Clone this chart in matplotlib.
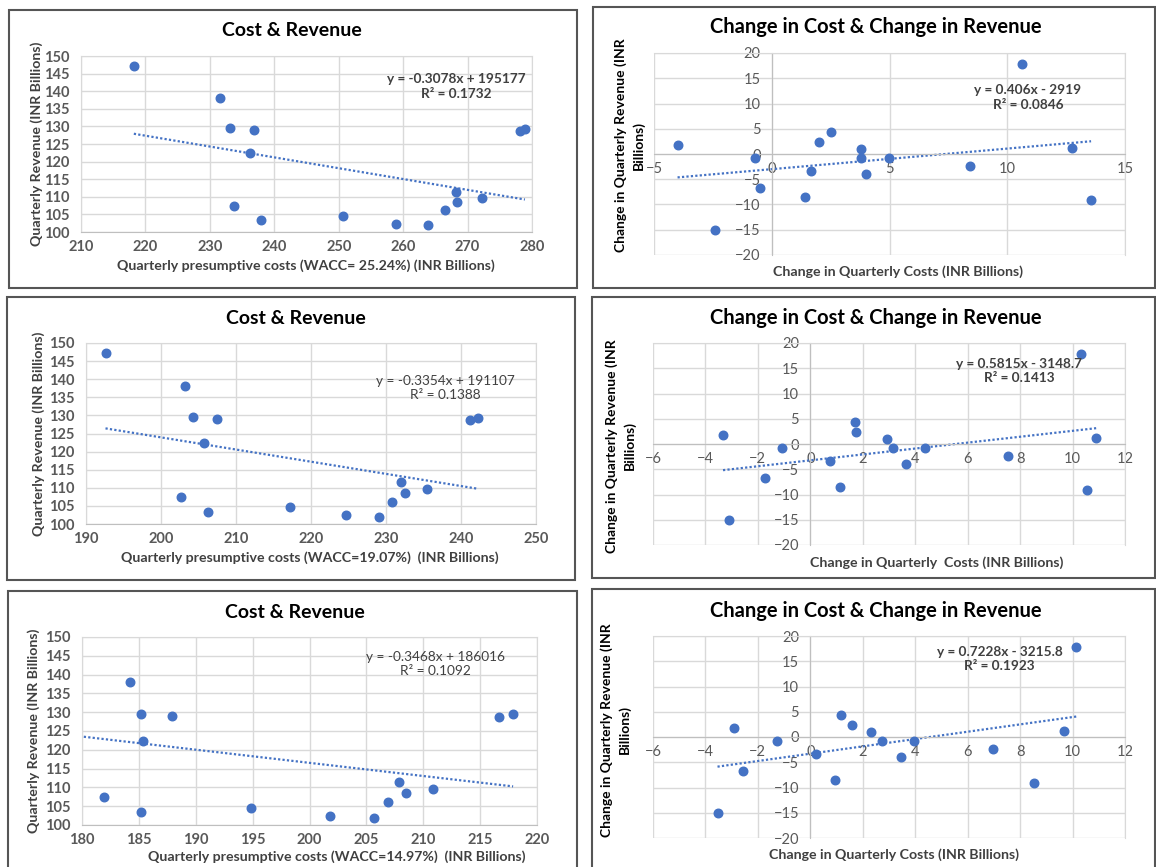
import numpy as np
import matplotlib
matplotlib.use("Agg")
import matplotlib.pyplot as plt
from matplotlib.patches import Rectangle

# Quarterly revenue (INR Billions), same for every WACC case
revenue = [147.1, 138.1, 129.5, 129.0, 122.4, 107.4, 103.4, 104.6,
           102.4, 101.9, 106.2, 111.5, 108.5, 109.6, 128.7, 129.4]

# Quarterly presumptive costs for the three WACC cases
cost_2524 = [218.2, 231.6, 233.1, 236.8, 236.2, 233.8, 237.9, 250.7,
             258.9, 263.9, 266.5, 268.2, 268.4, 272.2, 278.1, 278.9]
cost_1907 = [192.6, 203.2, 204.3, 207.5, 205.7, 202.6, 206.2, 217.2,
             224.6, 229.0, 230.8, 232.0, 232.5, 235.4, 241.2, 242.3]
cost_1497 = [175.5, 184.2, 185.2, 187.9, 185.4, 181.9, 185.2, 194.9,
             201.8, 205.7, 206.9, 207.9, 208.5, 210.9, 216.7, 217.9]

# Change in quarterly revenue and costs
d_revenue = [1.75, -15.0, -0.85, -6.8, -8.5, -3.3, 2.3, 4.4,
             1.05, -0.7, -4.0, -0.7, -2.3, 17.8, 1.2, -9.2]
d_cost_2524 = [-4.0, -2.43, -0.73, -0.51, 1.41, 1.65, 2.01, 2.52,
               3.77, 3.77, 4.02, 4.98, 8.42, 10.64, 12.74, 13.56]
d_cost_1907 = [-3.33, -3.1, -1.07, -1.74, 1.13, 0.76, 1.75, 1.71,
               2.93, 3.15, 3.65, 4.38, 7.54, 10.31, 10.90, 10.54]
d_cost_1497 = [-2.93, -3.54, -1.29, -2.56, 0.94, 0.22, 1.57, 1.17,
               2.33, 2.75, 3.44, 3.97, 6.97, 10.14, 9.68, 8.54]

left_xlabels = ['Quarterly presumptive costs (WACC= 25.24%) (INR Billions)',
                'Quarterly presumptive costs (WACC=19.07%)  (INR Billions)',
                'Quarterly presumptive costs (WACC=14.97%)  (INR Billions)']
right_xlabels = ['Change in Quarterly Costs (INR Billions)',
                 'Change in Quarterly  Costs (INR Billions)',
                 'Change in Quarterly Costs (INR Billions)']
left_eq = [('y = -0.3078x + 195177', 'R² = 0.1732'),
           ('y = -0.3354x + 191107', 'R² = 0.1388'),
           ('y = -0.3468x + 186016', 'R² = 0.1092')]
right_eq = [('y = 0.406x - 2919', 'R² = 0.0846'),
            ('y = 0.5815x - 3148.7', 'R² = 0.1413'),
            ('y = 0.7228x - 3215.8', 'R² = 0.1923')]

plt.rcParams['font.family'] = ['Lato', 'DejaVu Sans']

W, H = 1156, 867
BLUE = '#4472C4'
GRID = '#d9d9d9'
TXT = '#404040'
fig = plt.figure(figsize=(W / 100, H / 100), dpi=100)


def rect(x0, y0, x1, y1):
    return [x0 / W, 1 - y1 / H, (x1 - x0) / W, (y1 - y0) / H]


def ftext(x, y, s, **kw):
    fig.text(x / W, 1 - y / H, s, **kw)


# panel frames (pixel boxes)
frames = [(9, 10, 577, 288), (593, 7, 1155, 288),
          (7, 297, 575, 580), (592, 297, 1155, 578),
          (8, 591, 577, 880), (592, 589, 1155, 880)]
for x0, y0, x1, y1 in frames:
    fig.patches.append(Rectangle((x0 / W, 1 - y1 / H), (x1 - x0) / W, (y1 - y0) / H,
                                 transform=fig.transFigure, fill=False,
                                 edgecolor='#555555', lw=1.5))


def scatter_trend(ax, x, y):
    x = np.array(x)
    y = np.array(y)
    ax.scatter(x, y, s=38, color=BLUE, zorder=3)
    m, b = np.polyfit(x, y, 1)
    xs = np.array([x.min(), x.max()])
    ax.plot(xs, m * xs + b, color=BLUE, lw=1.6, ls=(0, (1, 1)), zorder=2)


def style(ax):
    ax.grid(True, color=GRID, lw=1)
    ax.set_axisbelow(True)
    for s in ax.spines.values():
        s.set_color(GRID)
    ax.tick_params(length=0, labelsize=10.5, labelcolor='#595959')
    for lab in ax.get_xticklabels() + ax.get_yticklabels():
        lab.set_fontweight('bold')


# ---- left column: Cost & Revenue ----
left_axes = [(81, 56, 532, 232), (86, 343, 536, 524), (82, 637, 537, 825)]
left_costs = [cost_2524, cost_1907, cost_1497]
left_xlims = [(210, 280, 10), (190, 250, 10), (180, 220, 5)]
left_title_y = [31, 318, 612]
left_xlab = [(306, 266), (310, 558), (337, 857)]
left_ylab_x = [37, 39, 34]
left_eq_pos = [(0.832, 0.867, 0.786), (0.798, 0.791, 0.713), (0.776, 0.895, 0.821)]
left_eq_w = ['bold', 'normal', 'normal']

for i in range(3):
    x0, y0, x1, y1 = left_axes[i]
    ax = fig.add_axes(rect(x0, y0, x1, y1))
    scatter_trend(ax, left_costs[i], revenue)
    lo, hi, st = left_xlims[i]
    ax.set_xlim(lo, hi)
    ax.set_xticks(np.arange(lo, hi + 1, st))
    ax.set_ylim(100, 150)
    ax.set_yticks(np.arange(100, 151, 5))
    style(ax)
    ax.spines['bottom'].set_color('#bfbfbf')
    ax.tick_params(axis='y', pad=8)
    ax.tick_params(axis='x', pad=6)
    ftext((x0 + x1) / 2 - 15, left_title_y[i], 'Cost & Revenue', ha='center', va='center',
          fontsize=14, fontweight='bold', color='black')
    ftext(left_xlab[i][0], left_xlab[i][1], left_xlabels[i], ha='center', va='center',
          fontsize=10.2, fontweight='bold', color=TXT)
    ftext(left_ylab_x[i], (y0 + y1) / 2, 'Quarterly Revenue (INR Billions)', ha='center',
          va='center', rotation=90, fontsize=10.2, fontweight='bold', color=TXT)
    ex, ey1, ey2 = left_eq_pos[i]
    ax.text(ex, ey1, left_eq[i][0], transform=ax.transAxes, ha='center', va='center',
            fontsize=9.8, fontweight=left_eq_w[i], color=TXT)
    ax.text(ex, ey2, left_eq[i][1], transform=ax.transAxes, ha='center', va='center',
            fontsize=9.8, fontweight=left_eq_w[i], color=TXT)

# ---- right column: Change in Cost & Change in Revenue ----
right_axes = [(654, 53, 1125, 255), (653, 343, 1125, 545), (653, 636, 1125, 838)]
right_costs = [d_cost_2524, d_cost_1907, d_cost_1497]
right_xlims = [(-5, 15, 5), (-6, 12, 2), (-6, 12, 2)]
right_title_y = [27, 318, 611]
right_xlab = [(898, 272), (937, 563), (894, 855)]
right_ylab_x = [(621, 639), (612, 630), (607, 625)]
right_ylab_dy = [-9, 2, -7]
right_eq_pos = [(0.794, 0.815, 0.744), (0.776, 0.898, 0.828), (0.734, 0.919, 0.850)]

for i in range(3):
    x0, y0, x1, y1 = right_axes[i]
    ax = fig.add_axes(rect(x0, y0, x1, y1))
    scatter_trend(ax, right_costs[i], d_revenue)
    lo, hi, st = right_xlims[i]
    ax.set_xlim(lo, hi)
    ax.set_xticks(np.arange(lo, hi + 1, st))
    ax.set_ylim(-20, 20)
    ax.set_yticks(np.arange(-20, 21, 5))
    style(ax)
    ax.spines['left'].set_position(('data', 0))
    ax.spines['bottom'].set_position(('data', 0))
    ax.spines['left'].set_color('#bfbfbf')
    ax.spines['bottom'].set_color('#bfbfbf')
    ax.tick_params(axis='y', pad=8)
    ax.tick_params(axis='x', pad=6)
    ftext(876, right_title_y[i], 'Change in Cost & Change in Revenue', ha='center',
          va='center', fontsize=14.5, fontweight='bold', color='black')
    ftext(right_xlab[i][0], right_xlab[i][1], right_xlabels[i], ha='center', va='center',
          fontsize=10.2, fontweight='bold', color=TXT)
    yc = (y0 + y1) / 2 + right_ylab_dy[i]
    ftext(right_ylab_x[i][0], yc, 'Change in Quarterly Revenue (INR',
          ha='center', va='center', rotation=90, fontsize=10, fontweight='bold', color='black')
    ftext(right_ylab_x[i][1], yc, 'Billions)', ha='center', va='center',
          rotation=90, fontsize=10, fontweight='bold', color='black')
    ex, ey1, ey2 = right_eq_pos[i]
    ax.text(ex, ey1, right_eq[i][0], transform=ax.transAxes, ha='center', va='center',
            fontsize=9.8, fontweight='bold', color=TXT)
    ax.text(ex, ey2, right_eq[i][1], transform=ax.transAxes, ha='center', va='center',
            fontsize=9.8, fontweight='bold', color=TXT)

fig.savefig('out.png', dpi=100)
